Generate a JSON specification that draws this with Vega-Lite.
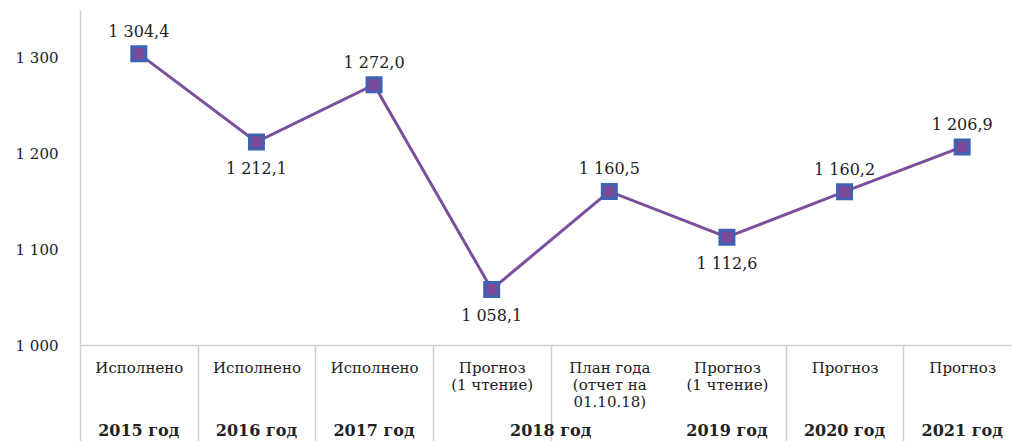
{
  "$schema": "https://vega.github.io/schema/vega-lite/v6.json",
  "autosize": {"type": "none"},
  "padding": {"left": 80, "top": 10, "right": -9, "bottom": 96},
  "width": 941,
  "height": 335,
  "background": "white",
  "config": {
    "view": {"stroke": null},
    "locale": {"number": {"decimal": ",", "thousands": " ", "grouping": [3], "currency": ["", ""]}},
    "font": "DejaVu Serif"
  },
  "data": {
    "values": [
      {"category": "2015 год|Исполнено", "value": 1304.4},
      {"category": "2016 год|Исполнено", "value": 1212.1},
      {"category": "2017 год|Исполнено", "value": 1272.0},
      {"category": "2018 год|Прогноз|(1 чтение)", "value": 1058.1},
      {"category": "2018 год|План года|(отчет на|01.10.18)", "value": 1160.5},
      {"category": "2019 год|Прогноз|(1 чтение)", "value": 1112.6},
      {"category": "2020 год|Прогноз", "value": 1160.2},
      {"category": "2021 год|Прогноз", "value": 1206.9}
    ]
  },
  "encoding": {
    "y": {
      "field": "value",
      "type": "quantitative",
      "scale": {"domain": [1000, 1350], "nice": false, "zero": false},
      "axis": {
        "title": null,
        "values": [1000, 1100, 1200, 1300],
        "format": ",d",
        "ticks": false,
        "grid": false,
        "labelPadding": 22,
        "labelFont": "DejaVu Serif",
        "labelFontSize": 15,
        "labelColor": "#222",
        "domainColor": "#cfcfcf",
        "domainWidth": 1.5
      }
    }
  },
  "layer": [
    {
      "mark": {"type": "line", "color": "#7b4f9c", "strokeWidth": 3},
      "encoding": {
        "x": {
          "field": "category",
          "type": "nominal",
          "sort": null,
          "scale": {"type": "band", "paddingInner": 0, "paddingOuter": 0},
          "axis": {
            "orient": "bottom",
            "title": null,
            "labelExpr": "slice(split(datum.label, '|'), 1)",
            "labelAngle": 0,
            "labelFont": "DejaVu Serif",
            "labelFontSize": 15,
            "labelColor": "#222",
            "labelLineHeight": 17,
            "labelBaseline": "top",
            "labelPadding": -81,
            "labelOverlap": false,
            "labelLimit": 0,
            "tickBand": "extent",
            "tickSize": 96,
            "tickColor": "#cfcfcf",
            "tickWidth": 1.5,
            "tickOpacity": {"expr": "datum.value == '2018 год|План года|(отчет на|01.10.18)' ? 0 : 1"},
            "domainColor": "#cfcfcf",
            "domainWidth": 1.5
          }
        }
      }
    },
    {
      "mark": {"type": "square", "size": 196, "filled": true, "fill": "#7c4a98", "stroke": "#3d63b5", "strokeWidth": 3, "opacity": 1},
      "encoding": {
        "x": {
          "field": "category",
          "type": "nominal",
          "sort": null,
          "axis": {
            "orient": "bottom",
            "title": null,
            "domain": false,
            "ticks": false,
            "labelAngle": 0,
            "labelExpr": "datum.label == '2018 год|План года|(отчет на|01.10.18)' ? '' : split(datum.label, '|')[0]",
            "labelOffset": {"expr": "datum.value == '2018 год|Прогноз|(1 чтение)' ? 59 : 0"},
            "labelFont": "DejaVu Serif",
            "labelFontSize": 16,
            "labelFontWeight": "bold",
            "labelColor": "#222",
            "labelBaseline": "top",
            "labelPadding": 77,
            "labelOverlap": false,
            "labelLimit": 0
          }
        }
      }
    },
    {
      "transform": [{"filter": {"field": "category", "oneOf": ["2015 год|Исполнено", "2017 год|Исполнено", "2018 год|План года|(отчет на|01.10.18)", "2020 год|Прогноз", "2021 год|Прогноз"]}}],
      "mark": {"type": "text", "dy": -22, "baseline": "middle", "font": "DejaVu Serif", "fontSize": 16, "color": "#222"},
      "encoding": {
        "x": {"field": "category", "type": "nominal", "sort": null, "axis": null},
        "text": {"field": "value", "type": "quantitative", "format": ",.1f"}
      }
    },
    {
      "transform": [{"filter": {"field": "category", "oneOf": ["2016 год|Исполнено", "2018 год|Прогноз|(1 чтение)", "2019 год|Прогноз|(1 чтение)"]}}],
      "mark": {"type": "text", "dy": 27, "baseline": "middle", "font": "DejaVu Serif", "fontSize": 16, "color": "#222"},
      "encoding": {
        "x": {"field": "category", "type": "nominal", "sort": null, "axis": null},
        "text": {"field": "value", "type": "quantitative", "format": ",.1f"}
      }
    }
  ],
  "resolve": {"axis": {"x": "independent"}}
}
